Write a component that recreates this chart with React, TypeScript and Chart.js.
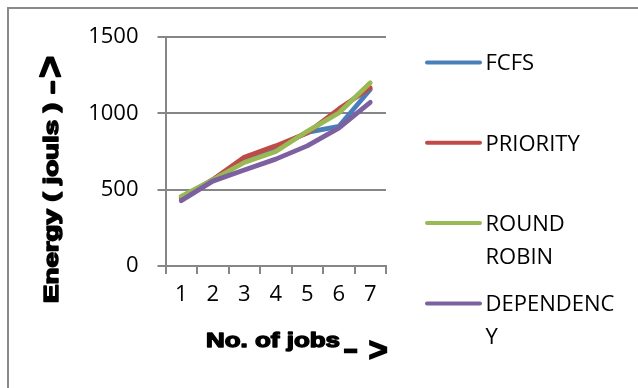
import React, { useEffect, useRef } from 'react';
import { Chart, registerables } from 'chart.js';

Chart.register(...registerables);

const categories = ['1', '2', '3', '4', '5', '6', '7'];
const seriesNames = ['FCFS', 'PRIORITY', 'ROUND ROBIN', 'DEPENDENCY'];
const legendLines = [['FCFS'], ['PRIORITY'], ['ROUND', 'ROBIN'], ['DEPENDENC', 'Y']];
const fcfs = [443, 564, 695, 772, 875, 914, 1156];
const priority = [445, 566, 713, 787, 871, 1028, 1167];
const roundRobin = [456, 564, 678, 750, 882, 1002, 1200];
const dependency = [428, 556, 629, 700, 787, 903, 1072];
const colors = ['#4A7EBB', '#BE4B48', '#98B954', '#7D60A0'];
const yTitle = 'Energy ( jouls )';
const xTitle = 'No. of jobs';

const GRID = '#868686';
const TICK_FONT = 'Open Sans';

function glyphCentered(ctx: CanvasRenderingContext2D, text: string, cx: number, cy: number) {
  const m = ctx.measureText(text);
  const w = m.actualBoundingBoxLeft + m.actualBoundingBoxRight;
  const h = m.actualBoundingBoxAscent + m.actualBoundingBoxDescent;
  const x = cx - w / 2 + m.actualBoundingBoxLeft;
  const y = cy - h / 2 + m.actualBoundingBoxAscent;
  ctx.fillText(text, x, y);
  ctx.strokeText(text, x, y);
}

const decorPlugin = {
  id: 'decor',
  beforeDraw(chart: any) {
    const ctx = chart.ctx as CanvasRenderingContext2D;
    ctx.save();
    ctx.strokeStyle = '#8a8a8a';
    ctx.lineWidth = 2;
    ctx.beginPath();
    ctx.moveTo(8, 388);
    ctx.lineTo(8, 8);
    ctx.lineTo(638, 8);
    ctx.stroke();
    ctx.restore();
  },
  afterDraw(chart: any) {
    const ctx = chart.ctx as CanvasRenderingContext2D;
    // legend
    ctx.save();
    chart.data.datasets.forEach((ds: any, i: number) => {
      const y = 62.5 + 80.3 * i;
      ctx.strokeStyle = ds.borderColor;
      ctx.lineWidth = 4;
      ctx.lineCap = 'round';
      ctx.beginPath();
      ctx.moveTo(427, y);
      ctx.lineTo(480, y);
      ctx.stroke();
      ctx.fillStyle = '#000';
      ctx.font = `22px "${TICK_FONT}"`;
      ctx.textBaseline = 'alphabetic';
      ctx.textAlign = 'left';
      legendLines[i].forEach((line, j) => {
        ctx.fillText(line, 485.5, y + 7.8 + 33 * j);
      });
    });
    ctx.restore();

    // y title (rotated, heavy)
    ctx.save();
    ctx.fillStyle = '#000';
    ctx.strokeStyle = '#000';
    ctx.lineWidth = 1.5;
    ctx.lineJoin = 'round';
    ctx.translate(58, 303);
    ctx.rotate(-Math.PI / 2);
    ctx.font = 'bold 20px "Liberation Sans"';
    const wy = ctx.measureText(yTitle).width;
    ctx.save();
    ctx.scale(200 / wy, 1);
    ctx.textBaseline = 'alphabetic';
    ctx.fillText(yTitle, 0, 0);
    ctx.strokeText(yTitle, 0, 0);
    ctx.restore();
    ctx.font = 'bold 22px "Liberation Sans"';
    ctx.lineWidth = 2.5;
    glyphCentered(ctx, '–', 215.5, -6);
    ctx.font = 'bold 38px "Liberation Sans"';
    ctx.lineWidth = 1.5;
    glyphCentered(ctx, '>', 236, -8.5);
    ctx.restore();

    // x title
    ctx.save();
    ctx.fillStyle = '#000';
    ctx.strokeStyle = '#000';
    ctx.lineWidth = 1.4;
    ctx.lineJoin = 'round';
    ctx.font = 'bold 21px "Liberation Sans"';
    const wx = ctx.measureText(xTitle).width;
    ctx.translate(206, 347);
    ctx.save();
    ctx.scale(134 / wx, 1);
    ctx.textBaseline = 'alphabetic';
    ctx.fillText(xTitle, 0, 0);
    ctx.strokeText(xTitle, 0, 0);
    ctx.restore();
    ctx.restore();
    ctx.save();
    ctx.fillStyle = '#000';
    ctx.strokeStyle = '#000';
    ctx.font = 'bold 22px "Liberation Sans"';
    ctx.lineWidth = 2.5;
    glyphCentered(ctx, '–', 350.5, 350);
    ctx.font = 'bold 33px "Liberation Sans"';
    ctx.lineWidth = 1.5;
    glyphCentered(ctx, '>', 378, 349);
    ctx.restore();
  },
};

export default function App() {
  const ref = useRef<HTMLCanvasElement>(null);
  useEffect(() => {
    if (!ref.current) return;
    const all = [fcfs, priority, roundRobin, dependency];
    const chart = new Chart(ref.current, {
      type: 'line',
      data: {
        labels: categories,
        datasets: all.map((d, i) => ({
          label: seriesNames[i],
          data: d,
          borderColor: colors[i],
          backgroundColor: colors[i],
          borderWidth: 4.8,
          pointRadius: 0,
          tension: 0,
          borderCapStyle: 'round',
          borderJoinStyle: 'round',
          order: 4 - i,
        })),
      },
      options: {
        responsive: false,
        animation: false,
        devicePixelRatio: 1,
        layout: { padding: { left: 0, right: 252, top: 37, bottom: 0 } },
        plugins: {
          legend: { display: false },
          tooltip: { enabled: false },
        },
        scales: {
          x: {
            type: 'category',
            offset: true,
            grid: {
              offset: true,
              drawOnChartArea: false,
              drawTicks: true,
              tickLength: 8,
              color: GRID,
              lineWidth: 2,
            },
            border: { display: true, color: GRID, width: 2 },
            ticks: {
              color: '#000',
              font: { family: TICK_FONT, size: 22 },
              padding: 8,
              maxRotation: 0,
            },
            afterFit: (s: any) => {
              s.height = 122;
            },
          },
          y: {
            min: 0,
            max: 1500,
            grid: {
              color: GRID,
              lineWidth: 2,
              tickLength: 8,
            },
            border: { display: true, color: GRID, width: 2 },
            ticks: {
              stepSize: 500,
              color: '#000',
              font: { family: TICK_FONT, size: 22 },
              padding: 19,
              callback: (v: any) => String(v),
            },
            afterFit: (s: any) => {
              s.width = 165.5;
            },
          },
        },
      },
      plugins: [decorPlugin],
    } as any);
    return () => chart.destroy();
  }, []);
  return (
    <div style={{ position: 'absolute', left: 0, top: 0, width: 638, height: 388, background: '#fff' }}>
      <canvas ref={ref} width={638} height={388} style={{ display: 'block', width: 638, height: 388 }} />
    </div>
  );
}
